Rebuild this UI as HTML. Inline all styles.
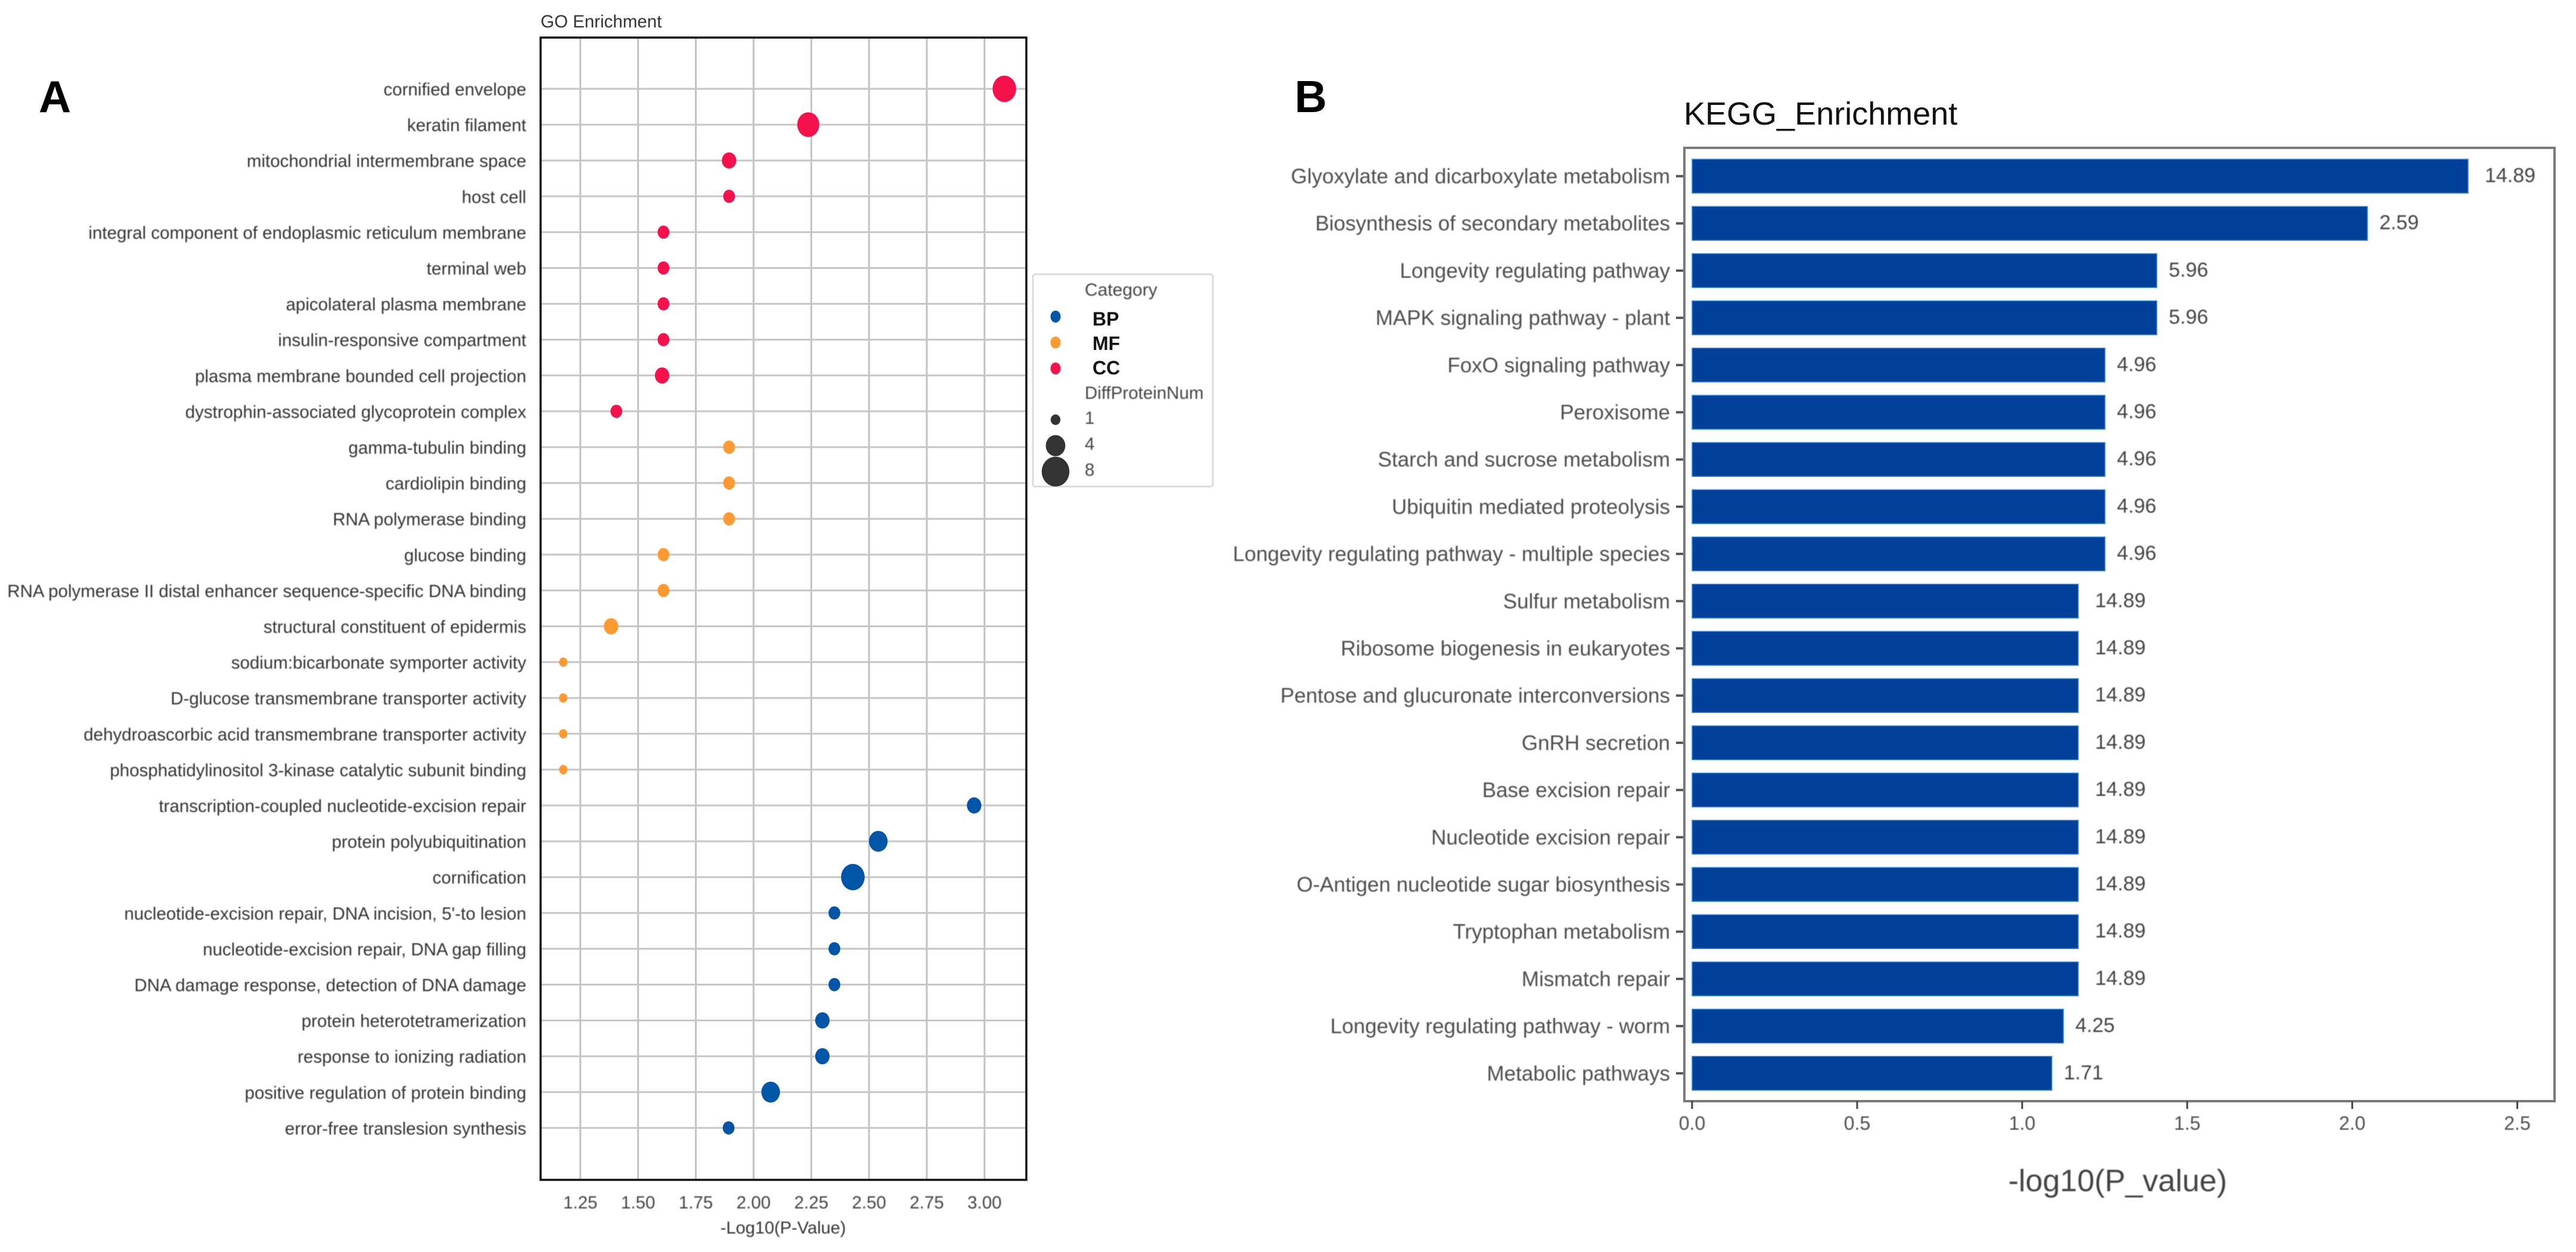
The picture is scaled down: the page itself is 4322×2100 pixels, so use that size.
<!DOCTYPE html>
<html lang="en">
<head>
<meta charset="utf-8">
<title>GO and KEGG Enrichment</title>
<style>
html,body{margin:0;padding:0;background:#fff;width:4322px;height:2100px;overflow:hidden}
svg{display:block}
text{font-family:"Liberation Sans",sans-serif}
.soft{filter:blur(0.7px)}
</style>
</head>
<body>
<svg id="figure" xmlns="http://www.w3.org/2000/svg" width="4322" height="2100" viewBox="0 0 4322 2100">
  <rect x="0" y="0" width="4322" height="2100" fill="#fff"/>
  <text x="65" y="188" font-size="75" font-weight="bold" fill="#000">A</text>
  <text x="2172" y="188" font-size="75" font-weight="bold" fill="#000">B</text>
  <g id="go-chart"></g>
  <g id="go-legend"></g>
  <g id="kegg-chart"></g>
</svg>
<script>
const goTerms = ["cornified envelope","keratin filament","mitochondrial intermembrane space","host cell","integral component of endoplasmic reticulum membrane","terminal web","apicolateral plasma membrane","insulin-responsive compartment","plasma membrane bounded cell projection","dystrophin-associated glycoprotein complex","gamma-tubulin binding","cardiolipin binding","RNA polymerase binding","glucose binding","RNA polymerase II distal enhancer sequence-specific DNA binding","structural constituent of epidermis","sodium:bicarbonate symporter activity","D-glucose transmembrane transporter activity","dehydroascorbic acid transmembrane transporter activity","phosphatidylinositol 3-kinase catalytic subunit binding","transcription-coupled nucleotide-excision repair","protein polyubiquitination","cornification","nucleotide-excision repair, DNA incision, 5'-to lesion","nucleotide-excision repair, DNA gap filling","DNA damage response, detection of DNA damage","protein heterotetramerization","response to ionizing radiation","positive regulation of protein binding","error-free translesion synthesis"];
const goCategories = ["CC","CC","CC","CC","CC","CC","CC","CC","CC","CC","MF","MF","MF","MF","MF","MF","MF","MF","MF","MF","BP","BP","BP","BP","BP","BP","BP","BP","BP","BP"];
const goPValues = [3.086,2.237,1.894,1.894,1.61,1.61,1.61,1.61,1.604,1.406,1.894,1.894,1.894,1.61,1.61,1.383,1.176,1.176,1.176,1.176,2.955,2.54,2.43,2.35,2.35,2.35,2.298,2.298,2.074,1.892];
const goCounts = [8,7,3,2,2,2,2,2,3,2,2,2,2,2,2,3,1,1,1,1,3,5,8,2,2,2,3,3,5,2];
const goTicks = [1.25,1.5,1.75,2,2.25,2.5,2.75,3];
const goTickLabels = ["1.25","1.50","1.75","2.00","2.25","2.50","2.75","3.00"];
const legendCategories = ["BP","MF","CC"];
const legendCounts = [1,4,8];
const keggTerms = ["Glyoxylate and dicarboxylate metabolism","Biosynthesis of secondary metabolites","Longevity regulating pathway","MAPK signaling pathway - plant","FoxO signaling pathway","Peroxisome","Starch and sucrose metabolism","Ubiquitin mediated proteolysis","Longevity regulating pathway - multiple species","Sulfur metabolism","Ribosome biogenesis in eukaryotes","Pentose and glucuronate interconversions","GnRH secretion","Base excision repair","Nucleotide excision repair","O-Antigen nucleotide sugar biosynthesis","Tryptophan metabolism","Mismatch repair","Longevity regulating pathway - worm","Metabolic pathways"];
const keggValues = [2.351,2.046,1.408,1.408,1.251,1.251,1.251,1.251,1.251,1.17,1.17,1.17,1.17,1.17,1.17,1.17,1.17,1.17,1.125,1.09];
const keggPercents = ["14.89","2.59","5.96","5.96","4.96","4.96","4.96","4.96","4.96","14.89","14.89","14.89","14.89","14.89","14.89","14.89","14.89","14.89","4.25","1.71"];
const keggTicks = [0,0.5,1,1.5,2,2.5];
const keggTickLabels = ["0.0","0.5","1.0","1.5","2.0","2.5"];

const NS = "http://www.w3.org/2000/svg";
const categoryColors = {BP:"#0055a6",MF:"#ff9a33",CC:"#f5124c"};

function make(tag, parent, attrs, content){
  const el = document.createElementNS(NS, tag);
  for (const k in attrs) el.setAttribute(k, attrs[k]);
  if (content !== undefined) el.textContent = content;
  parent.appendChild(el);
  return el;
}
function slug(s){ return s.toLowerCase().replace(/[^a-z0-9]+/g,"-").replace(/^-|-$/g,""); }

/* ---------- GO chart ---------- */
const goRoot = document.getElementById("go-chart");
const goBox = {left:907, right:1722, top:63, bottom:1979};
function goX(v){ return 973.7 + (v - 1.25) * 387.5; }
function goY(i){ return 149 + i * 60.1; }
function goRadius(n){ return 7 * Math.sqrt(n); }

const goTitle = make("text", goRoot, {x:907, y:46, "font-size":29.5, fill:"#333"}, "GO Enrichment");



goTicks.forEach((t, i) => {
  const line = make("line", goRoot, {x1:goX(t), x2:goX(t), y1:goBox.top, y2:goBox.bottom, stroke:"#c2c2c2", "stroke-width":3});
  
  
  const label = make("text", goRoot, {x:goX(t), y:2027, "font-size":29.5, fill:"#444", "text-anchor":"middle", class:"soft"}, goTickLabels[i]);
  
  
});

goTerms.forEach((term, i) => {
  const line = make("line", goRoot, {x1:goBox.left, x2:goBox.right, y1:goY(i), y2:goY(i), stroke:"#c6c6c6", "stroke-width":3});
  
  
  const label = make("text", goRoot, {x:883, y:goY(i) + 11, "font-size":29.5, fill:"#333", "text-anchor":"end", class:"soft"}, term);
  
  
});

const goFrame = make("rect", goRoot, {x:goBox.left, y:goBox.top, width:goBox.right - goBox.left, height:goBox.bottom - goBox.top, fill:"none", stroke:"#111", "stroke-width":3.5});



goPValues.forEach((v, i) => {
  const r = goRadius(goCounts[i]);
  const dot = make("ellipse", goRoot, {cx:goX(v), cy:goY(i), rx:r, ry:r * 1.12, fill:categoryColors[goCategories[i]]});
  
  
});

const goXTitle = make("text", goRoot, {x:1314, y:2069, "font-size":29, fill:"#333", "text-anchor":"middle", class:"soft"}, "-Log10(P-Value)");



/* ---------- GO legend ---------- */
const lg = document.getElementById("go-legend");
const lgBox = make("rect", lg, {x:1733, y:460, width:302, height:356, rx:4, fill:"#fff", stroke:"#dcdcdc", "stroke-width":3});


const lgCat = make("text", lg, {x:1820, y:496, "font-size":30, fill:"#444", class:"soft"}, "Category");


legendCategories.forEach((c, i) => {
  const d = make("ellipse", lg, {cx:1771, cy:531 + i * 43.5, rx:8.5, ry:10, fill:categoryColors[c]});
  
  
  const t = make("text", lg, {x:1833, y:546 + i * 41, "font-size":32, "font-weight":"bold", fill:"#111"}, c);
  
  
});
const lgNum = make("text", lg, {x:1820, y:669, "font-size":29.5, fill:"#444", class:"soft"}, "DiffProteinNum");


legendCounts.forEach((n, i) => {
  const y = 704 + i * 43.5;
  const r = 8.2 * Math.sqrt(n);
  const d = make("ellipse", lg, {cx:1771, cy:y, rx:r, ry:r * 1.08, fill:"#333"});
  
  
  const t = make("text", lg, {x:1820, y:y + 7, "font-size":29.5, fill:"#444", class:"soft"}, String(n));
  
  
});

/* ---------- KEGG chart ---------- */
const kg = document.getElementById("kegg-chart");
const kgBox = {left:2826, right:4286, top:248, bottom:1847};
function kgX(v){ return 2839 + v * 553.8; }
function kgY(i){ return 295.5 + i * 79.2; }
const BAR_H = 57;

const kgTitle = make("text", kg, {x:2825, y:209, "font-size":54, fill:"#111"}, "KEGG_Enrichment");



keggTerms.forEach((term, i) => {
  const bar = make("rect", kg, {x:kgX(0), y:kgY(i) - BAR_H / 2, width:kgX(keggValues[i]) - kgX(0), height:BAR_H, fill:"#00409a", stroke:"#3f8fd6", "stroke-width":1.5});
  
  
  const tick = make("line", kg, {x1:2812, x2:kgBox.left, y1:kgY(i), y2:kgY(i), stroke:"#555", "stroke-width":4});
  
  
  const label = make("text", kg, {x:2802, y:kgY(i) + 12, "font-size":35, fill:"#4d4d4d", "text-anchor":"end", class:"soft"}, term);
  
  
  const gap = keggPercents[i].length > 4 ? 28 : 20;
  const val = make("text", kg, {x:kgX(keggValues[i]) + gap, y:kgY(i) + 10, "font-size":34, fill:"#444", class:"soft"}, keggPercents[i]);
  
  
});

const kgFrame = make("rect", kg, {x:kgBox.left, y:kgBox.top, width:kgBox.right - kgBox.left, height:kgBox.bottom - kgBox.top, fill:"none", stroke:"#7a7a7a", "stroke-width":4});



keggTicks.forEach((t, i) => {
  const tick = make("line", kg, {x1:kgX(t), x2:kgX(t), y1:kgBox.bottom, y2:1860, stroke:"#444", "stroke-width":3});
  
  
  const label = make("text", kg, {x:kgX(t), y:1895, "font-size":32, fill:"#4d4d4d", "text-anchor":"middle", class:"soft"}, keggTickLabels[i]);
  
  
});

const kgXTitle = make("text", kg, {x:3553, y:1998, "font-size":52, fill:"#444", "text-anchor":"middle", class:"soft"}, "-log10(P_value)");


</script>
</body>
</html>
